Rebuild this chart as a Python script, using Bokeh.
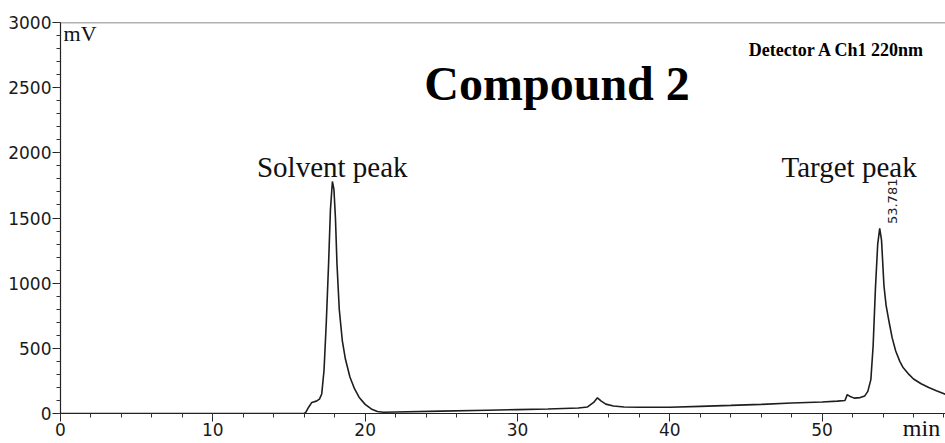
from bokeh.plotting import figure
from bokeh.models import Range1d, Span, Label, SingleIntervalTicker
from bokeh.embed import file_html
from bokeh.resources import INLINE
import math

# ---- data ----
time_min = [
    0.0, 5.0, 10.0, 15.0, 16.0, 16.1, 16.3, 16.5, 16.8, 17.0, 17.15, 17.3, 17.45,
    17.6, 17.72, 17.85, 17.95, 18.05, 18.15, 18.3, 18.5, 18.7, 19.0, 19.3, 19.6,
    20.0, 20.4, 20.8, 21.2, 22.0, 25.0, 28.0, 30.0, 32.0, 34.0, 34.6, 35.0, 35.25,
    35.5, 35.8, 36.3, 37.0, 38.0, 40.0, 42.0, 44.0, 46.0, 48.0, 50.0, 51.0, 51.5,
    51.65, 51.85, 52.1, 52.5, 52.8, 53.0, 53.2, 53.35, 53.5, 53.65, 53.78, 53.9,
    54.06, 54.2, 54.4, 54.6, 54.83, 55.1, 55.3, 55.7, 56.0, 56.5, 57.0, 57.5, 58.1,
]
signal_mv = [
    0, 0, 0, 0, 0, 8, 50, 85, 95, 110, 150, 330, 700,
    1150, 1560, 1780, 1720, 1500, 1150, 800, 560, 420, 280, 190, 125,
    70, 35, 15, 10, 12, 18, 25, 30, 35, 42, 50, 85, 120,
    95, 72, 58, 50, 48, 48, 55, 62, 70, 80, 88, 95, 100,
    145, 130, 118, 122, 135, 170, 260, 520, 960, 1300, 1420, 1330,
    980, 830, 700, 580, 480, 400, 355, 300, 265, 228, 200, 175, 148,
]
target_rt = 53.781
x_ticks_major = 10
y_ticks_major = 500
x_unit = "min"
y_unit = "mV"

p = figure(width=945, height=443, output_backend="svg", toolbar_location=None,
           x_range=Range1d(0, 58.1), y_range=Range1d(0, 3000),
           min_border_left=60, min_border_right=0, min_border_top=22,
           min_border_bottom=30)
p.background_fill_color = "white"
p.border_fill_color = "white"
p.outline_line_color = None
p.xgrid.visible = False
p.ygrid.visible = False

p.line(time_min, signal_mv, line_color="#1e1e1e", line_width=1.6)

for ax, step in ((p.xaxis[0], x_ticks_major), (p.yaxis[0], y_ticks_major)):
    ax.ticker = SingleIntervalTicker(interval=step, num_minor_ticks=5)
    ax.axis_line_color = "#222222"
    ax.axis_line_width = 1.2
    ax.major_tick_line_color = "#222222"
    ax.minor_tick_line_color = "#333333"
    ax.major_tick_out = 8
    ax.major_tick_in = 0
    ax.minor_tick_out = 4
    ax.minor_tick_in = 0
    ax.major_label_text_font = "DejaVu Sans"
    ax.major_label_text_font_size = "17px"
    ax.major_label_text_color = "#1a1a1a"
p.yaxis[0].major_label_standoff = 1
p.xaxis[0].major_label_standoff = 1

serif = "Liberation Serif"
xa = p.xaxis[0]
# the axis label is centred on the right end of the axis; trailing no-break
# spaces pull the visible word back inside the window
xa.axis_label = x_unit + "\u00a0" * 8
xa.axis_label_align = "end"
xa.axis_label_text_font = serif
xa.axis_label_text_font_size = "24px"
xa.axis_label_text_font_style = "normal"
xa.axis_label_text_color = "#111111"
xa.axis_label_standoff = -24

# top frame line
p.add_layout(Span(location=3000, dimension="width", line_color="#666666", line_width=1.5))

p.add_layout(Label(x=32.6, y=2533, text="Compound 2", text_font=serif, text_font_size="48px",
                   text_font_style="bold", text_align="center", text_baseline="alphabetic",
                   text_color="black"))
p.add_layout(Label(x=50.98, y=2786, text="Detector A Ch1 220nm", text_font=serif,
                   text_font_size="18px", text_font_style="bold", text_align="center",
                   text_baseline="alphabetic", text_color="black"))
p.add_layout(Label(x=17.84, y=1889, text="Solvent peak", text_font=serif, text_font_size="29px",
                   text_align="center", text_baseline="alphabetic", text_color="#111111"))
p.add_layout(Label(x=51.77, y=1889, text="Target peak", text_font=serif, text_font_size="29px",
                   text_align="center", text_baseline="alphabetic", text_color="#111111"))
p.add_layout(Label(x=target_rt + 0.85, y=1628, text=f"{target_rt:.3f}", text_font="DejaVu Sans",
                   text_font_size="13px", angle=math.pi / 2, text_align="center",
                   text_baseline="middle", text_color="#222222"))
p.add_layout(Label(x=0.2, y=2916, text=y_unit, text_font=serif, text_font_size="22px",
                   text_align="left", text_baseline="alphabetic", text_color="#111111"))

open("out.html", "w").write(file_html(p, INLINE))
